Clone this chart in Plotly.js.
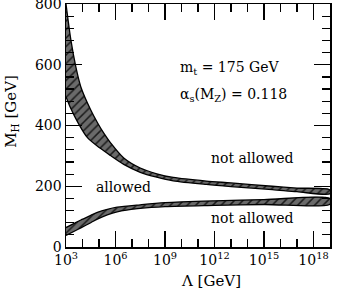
<!DOCTYPE html>
<html>
<head>
<meta charset="utf-8">
<script src="https://cdn.plot.ly/plotly-3.0.1.min.js"></script>
<style>html,body{margin:0;padding:0;background:#fff;}#chart{width:337px;height:293px;}</style>
</head>
<body>
<div id="chart"></div>
<script>
// Upper (triviality) band: log10(Lambda/GeV) and M_H [GeV]
const upperTopLog = [3.0, 3.3, 3.6, 3.9, 4.5, 4.9, 5.3, 5.7, 6.5, 7.5, 8.5, 9.5, 11.5, 13, 15.5, 17, 19];
const upperTopM   = [800, 680, 592, 527, 451, 410, 374, 343, 293, 260, 241, 229, 217, 211, 200, 194, 188];
const upperBotLog = [3.0, 3.3, 3.7, 4.3, 5.1, 5.7, 6.5, 7.5, 8.5, 9.5, 11.5, 13, 15.5, 17, 19];
const upperBotM   = [495, 455, 412, 360, 324, 301, 272, 246, 230, 218, 206, 199, 189, 182, 175];
// Lower (vacuum stability) band
const lowerLog    = [3.0, 3.5, 3.9, 4.5, 4.9, 5.5, 6.1, 7.5, 9, 12, 15, 19];
const lowerTopM   = [64, 78, 89, 104, 114, 124, 131, 139, 146, 152, 156, 160];
const lowerBotM   = [38, 52, 63, 80, 92, 106, 116, 127, 133, 137, 140, 141];
// Axis ticks
const xMajorExp = [3, 6, 9, 12, 15, 18];
const xMinorExp = [4, 5, 7, 8, 10, 11, 13, 14, 16, 17];
const yTicks = [0, 200, 400, 600, 800];

const toL = a => a.map(e => Math.pow(10, e));
function band(tl, tm, bl, bm) {
  return {
    x: toL(tl).concat(toL(bl).reverse()),
    y: tm.concat(bm.slice().reverse()),
    type: 'scatter', mode: 'lines', fill: 'toself',
    line: {color: '#000', width: 1.3, shape: 'spline', smoothing: 0.8},
    fillcolor: '#6a6a6a',
    fillpattern: {shape: '/', bgcolor: '#6a6a6a', fgcolor: '#1a1a1a', size: 6, solidity: 0.25},
    hoverinfo: 'skip', showlegend: false
  };
}
const traces = [
  band(upperTopLog, upperTopM, upperBotLog, upperBotM),
  band(lowerLog, lowerTopM, lowerLog, lowerBotM)
];
const font = {family: 'DejaVu Serif', size: 14, color: '#000'};
const layout = {
  width: 337, height: 293,
  margin: {l: 66, r: 7, t: 4, b: 46},
  paper_bgcolor: '#fff', plot_bgcolor: '#fff',
  font: font,
  showlegend: false,
  xaxis: {
    type: 'log', range: [3, 19.0],
    tickmode: 'array', tickvals: toL(xMajorExp),
    ticktext: xMajorExp.map(e => '10<sup>' + e + '</sup>'),
    ticks: 'inside', ticklen: 16, tickwidth: 1.2, tickcolor: '#000',
    minor: {tickmode: 'array', tickvals: toL(xMinorExp), ticks: 'inside', ticklen: 8, tickwidth: 1.2, tickcolor: '#000', showgrid: false},
    showline: true, linecolor: '#000', linewidth: 1.5, mirror: 'allticks',
    showgrid: false, zeroline: false, ticklabeloverflow: 'allow',
    tickfont: {family: 'DejaVu Serif', size: 14}
  },
  yaxis: {
    range: [0, 800],
    tickmode: 'array', tickvals: yTicks,
    ticks: 'inside', ticklen: 16, tickwidth: 1.2, tickcolor: '#000',
    minor: {tickmode: 'linear', tick0: 0, dtick: 40, ticks: 'inside', ticklen: 8, tickwidth: 1.2, tickcolor: '#000', showgrid: false},
    showline: true, linecolor: '#000', linewidth: 1.5, mirror: 'allticks',
    showgrid: false, zeroline: false, ticklabeloverflow: 'allow',
    tickfont: {family: 'DejaVu Serif', size: 14}
  },
  annotations: [
    {xref: 'paper', yref: 'paper', x: 0.55, y: -0.14, xanchor: 'center', yanchor: 'middle', showarrow: false, text: 'Λ [GeV]', font: {family: 'DejaVu Serif', size: 15}},
    {xref: 'paper', yref: 'paper', x: -0.205, y: 0.56, xanchor: 'center', yanchor: 'middle', showarrow: false, textangle: -90, text: 'M<sub>H</sub> [GeV]', font: {family: 'DejaVu Serif', size: 15}},
    {xref: 'paper', yref: 'paper', x: 0.425, y: 0.735, xanchor: 'left', yanchor: 'middle', showarrow: false, text: 'm<sub>t</sub> = 175 GeV', font: font},
    {xref: 'paper', yref: 'paper', x: 0.425, y: 0.625, xanchor: 'left', yanchor: 'middle', showarrow: false, text: 'α<sub>s</sub>(M<sub>Z</sub>) = 0.118', font: font},
    {xref: 'paper', yref: 'paper', x: 0.54, y: 0.365, xanchor: 'left', yanchor: 'middle', showarrow: false, text: 'not allowed', font: font},
    {xref: 'paper', yref: 'paper', x: 0.105, y: 0.247, xanchor: 'left', yanchor: 'middle', showarrow: false, text: 'allowed', font: font},
    {xref: 'paper', yref: 'paper', x: 0.54, y: 0.118, xanchor: 'left', yanchor: 'middle', showarrow: false, text: 'not allowed', font: font}
  ]
};
Plotly.newPlot('chart', traces, layout, {staticPlot: true, displayModeBar: false});
</script>
</body>
</html>
